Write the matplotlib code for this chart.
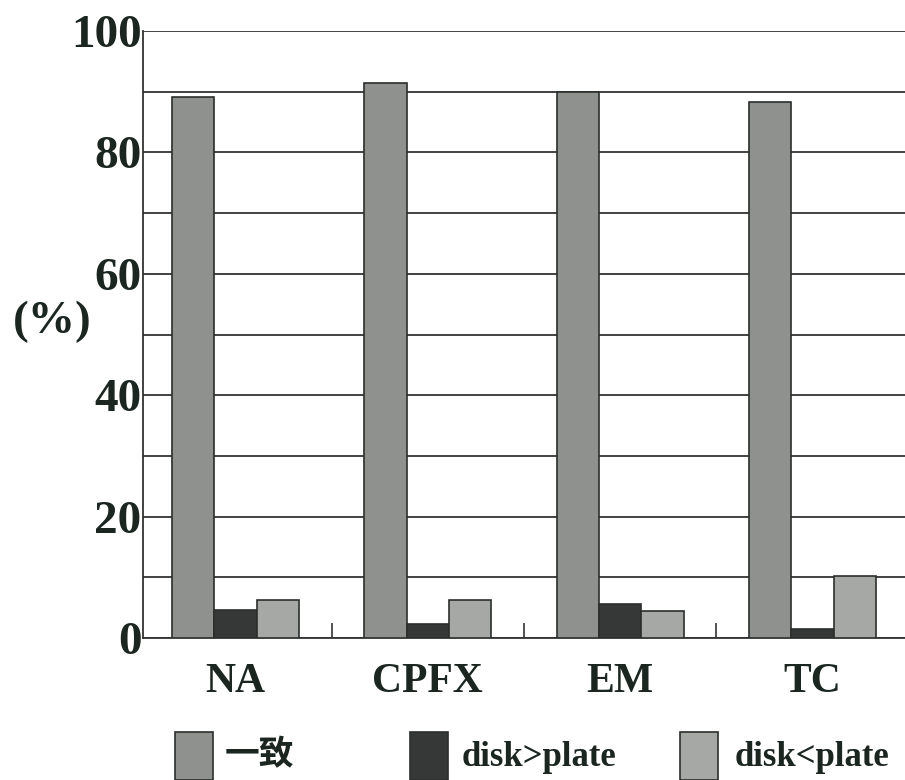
import matplotlib.pyplot as plt
from matplotlib.patches import Rectangle
import numpy as np

# Agreement between disk diffusion and agar plate results
drugs = ['NA', 'CPFX', 'EM', 'TC']
series = ['一致', 'disk>plate', 'disk<plate']
agree = [89.2, 91.4, 90.0, 88.3]
disk_gt = [4.6, 2.3, 5.6, 1.5]
disk_lt = [6.2, 6.3, 4.4, 10.2]

colors = ['#8f918f', '#363838', '#a6a8a6']
edge = '#2a2f2c'
text_color = '#1c2620'

plt.rcParams['font.family'] = ['Liberation Serif', 'Noto Sans CJK SC']
plt.rcParams['font.weight'] = 'bold'

fig = plt.figure(figsize=(9.05, 7.8), dpi=100)
ax = fig.add_axes([143 / 905, 1 - 638 / 780, 762 / 905, 607 / 780])

x = np.arange(len(drugs))
w = 0.22
for i, (vals, c) in enumerate(zip([agree, disk_gt, disk_lt], colors)):
    ax.bar(x + (i - 1) * w, vals, width=w, color=c, edgecolor=edge,
           linewidth=1.2, zorder=3)

ax.set_xlim(-0.48, 3.48)
ax.set_ylim(0, 100)
ax.set_yticks(np.arange(0, 101, 20))
ax.set_yticks(np.arange(10, 100, 20), minor=True)
ax.yaxis.grid(True, which='both', color='#333333', linewidth=1.3)
ax.set_axisbelow(True)

ax.set_xticks(x)
ax.set_xticklabels(drugs)
ax.set_xticks([0.5, 1.5, 2.5], minor=True)
ax.tick_params(axis='x', which='major', length=0, pad=18, labelsize=30,
               labelcolor=text_color)
ax.tick_params(axis='x', which='minor', direction='in', length=11,
               width=1.2, color='#333333')
ax.tick_params(axis='y', which='both', length=0, pad=1, labelsize=34,
               labelcolor=text_color)

for s in ['top', 'right']:
    ax.spines[s].set_visible(False)
for s in ['left', 'bottom']:
    ax.spines[s].set_color('#333333')
    ax.spines[s].set_linewidth(1.3)

fig.text(52 / 905, 1 - 322 / 780, '(%)', ha='center', va='center',
         fontsize=34, fontweight='bold', color=text_color)

# Legend drawn by hand so the spacing between entries can differ
patch_x = [175, 410, 680]
text_x = [225, 462, 735]
for px, tx, label, c in zip(patch_x, text_x, series, colors):
    fig.add_artist(Rectangle((px / 905, 0), 38 / 905, 48 / 780,
                             transform=fig.transFigure, facecolor=c,
                             edgecolor=edge, linewidth=1.2))
    fig.text(tx / 905, 1 - 757 / 780, label, ha='left', va='center',
             fontsize=25, fontweight='bold', color=text_color)

fig.savefig('out.png', dpi=100)
